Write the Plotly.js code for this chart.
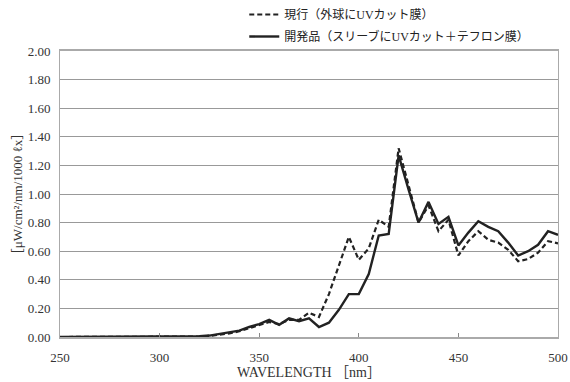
<!DOCTYPE html>
<html>
<head>
<meta charset="utf-8">
<script src="https://cdn.plot.ly/plotly-3.0.1.min.js"></script>
<style>html,body{margin:0;padding:0;background:#fff;}#chart{width:570px;height:382px;}</style>
</head>
<body>
<div id="chart"></div>
<script>
const wavelength = [250,255,260,265,270,275,280,285,290,295,300,305,310,315,320,325,330,335,340,345,350,355,360,365,370,375,380,385,390,395,400,405,410,415,420,425,430,435,440,445,450,455,460,465,470,475,480,485,490,495,500];
const current = [0,0,0,0,0,0,0,0,0,0,0,0,0,0,0.003,0.008,0.015,0.025,0.04,0.06,0.08,0.105,0.09,0.12,0.12,0.17,0.14,0.30,0.50,0.70,0.54,0.62,0.82,0.77,1.32,1.06,0.80,0.92,0.74,0.82,0.57,0.67,0.74,0.68,0.66,0.61,0.53,0.545,0.59,0.67,0.655];
const developed = [0,0,0,0,0,0,0,0,0,0,0,0,0,0,0.005,0.01,0.02,0.03,0.045,0.07,0.09,0.12,0.085,0.13,0.11,0.13,0.07,0.10,0.19,0.30,0.30,0.44,0.71,0.72,1.27,1.03,0.80,0.945,0.79,0.84,0.64,0.73,0.81,0.77,0.74,0.66,0.57,0.60,0.645,0.74,0.715];
const seriesNames = ["現行（外球にUVカット膜）", "開発品（スリーブにUVカット＋テフロン膜）"];
const yTickVals = [0,0.2,0.4,0.6,0.8,1.0,1.2,1.4,1.6,1.8,2.0];
const xTickVals = [250,300,350,400,450,500];

const serif = "Liberation Serif, DejaVu Serif, Noto Sans CJK JP, serif";

const traces = [
  {x: wavelength, y: current, name: seriesNames[0], type: "scatter", mode: "lines",
   line: {color: "#222", width: 2.2, dash: "5px,3px"}, legendgroup: "a"},
  {x: wavelength, y: developed, name: seriesNames[1], type: "scatter", mode: "lines",
   line: {color: "#222", width: 2.4}, legendgroup: "b"}
];

const layout = {
  width: 570, height: 382,
  margin: {l: 60, r: 12, t: 50, b: 45},
  paper_bgcolor: "#fff", plot_bgcolor: "#fff",
  font: {family: serif, size: 12, color: "#333"},
  showlegend: true,
  legend: {x: 0.37, xanchor: "left", yref: "container", y: 1.017, yanchor: "top",
           font: {family: serif, size: 12, color: "#222"},
           traceorder: "grouped", tracegroupgap: 3, bgcolor: "rgba(0,0,0,0)"},
  xaxis: {range: [250, 500], tickvals: xTickVals, ticks: "inside", ticklen: 4, tickcolor: "#888",
          showgrid: false, showline: true, linecolor: "#aaa", linewidth: 2, mirror: true,
          zeroline: false, ticklabelstandoff: 7, tickfont: {family: serif, size: 13, color: "#333"},
          title: {text: "WAVELENGTH ［nm］", font: {family: serif, size: 14, color: "#333"}, standoff: 2}},
  yaxis: {range: [0, 2], tickvals: yTickVals, tickformat: ".2f", ticks: "",
          showgrid: true, gridcolor: "#999", gridwidth: 1,
          showline: true, linecolor: "#aaa", linewidth: 1, mirror: true,
          zeroline: false, ticklabelstandoff: 6, tickfont: {family: serif, size: 13, color: "#333"},
          title: {text: "［μW/cm²/nm/1000 ℓx］", font: {family: serif, size: 13, color: "#333"}, standoff: 2}}
};

Plotly.newPlot("chart", traces, layout, {displayModeBar: false, staticPlot: true});
</script>
</body>
</html>
